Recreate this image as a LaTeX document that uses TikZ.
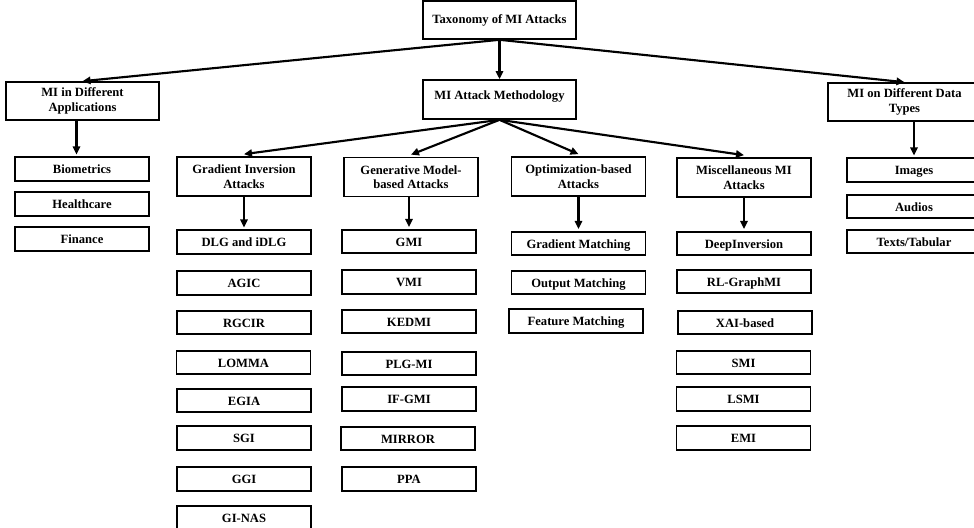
\documentclass[tikz,border=0pt]{standalone}
\usepackage{fontspec}
\setmainfont{Liberation Serif}
\usetikzlibrary{arrows.meta}
\begin{document}
\begin{tikzpicture}[x=0.75pt,y=-0.75pt,
  box/.style={draw=black, line width=1.2pt, inner sep=0pt, align=center,
    font=\fontsize{9.45pt}{10.9pt}\selectfont\bfseries, text=black},
  wbox/.style={box, minimum width=114.75pt, minimum height=28.5pt},
  sbox/.style={box, minimum width=100.5pt, minimum height=29.3pt},
  leaf/.style={box, minimum width=100.5pt, minimum height=17.6pt, text height=8.3pt, text depth=1.5pt},
  arr/.style={-{Triangle[length=6pt,width=5.5pt]}, line width=1.6pt, black}]
\useasboundingbox (0,0) rectangle (974,528);
\clip (0,0) rectangle (974,528);
% level 0
\node[wbox] (top) at (499.5,20) {Taxonomy of MI Attacks};
% level 1
\node[wbox, minimum height=29.3pt, text height=6.8pt, text depth=6.8pt] (meth) at (499.5,99.5) {MI Attack Methodology};
\node[wbox] (app) at (82.5,101) {MI in Different\\Applications};
\node[wbox] (data) at (904.5,102) {MI on Different Data\\Types};
% applications
\node[leaf] (bio) at (82,169) {Biometrics};
\node[leaf] (health) at (82,204) {Healthcare};
\node[leaf] (fin) at (82,239) {Finance};
% gradient inversion
\node[sbox] (gi) at (244,176.5) {Gradient Inversion\\Attacks};
\node[leaf] (dlg) at (244,242) {DLG and iDLG};
\node[leaf] (agic) at (244,283) {AGIC};
\node[leaf] (rgcir) at (244,322.5) {RGCIR};
\node[leaf] (lomma) at (243.5,362.5) {LOMMA};
\node[leaf] (egia) at (244,400.5) {EGIA};
\node[leaf] (sgi) at (244,438) {SGI};
\node[leaf] (ggi) at (244,479) {GGI};
\node[leaf] (ginas) at (244,518) {GI-NAS};
% generative
\node[sbox] (gen) at (411,177) {Generative Model-\\based Attacks};
\node[leaf] (gmi) at (409,241.5) {GMI};
\node[leaf] (vmi) at (409,282) {VMI};
\node[leaf] (kedmi) at (409,321.5) {KEDMI};
\node[leaf] (plgmi) at (409,363.5) {PLG-MI};
\node[leaf] (ifgmi) at (409,399) {IF-GMI};
\node[leaf] (mirror) at (408,438.5) {MIRROR};
\node[leaf] (ppa) at (409,479) {PPA};
% optimization
\node[sbox] (opt) at (578.5,176.5) {Optimization-based\\Attacks};
\node[leaf] (gradm) at (578.5,243.5) {Gradient Matching};
\node[leaf] (outm) at (578.5,282.5) {Output Matching};
\node[leaf] (featm) at (576,321) {Feature Matching};
% miscellaneous
\node[sbox] (misc) at (744,177.5) {Miscellaneous MI\\Attacks};
\node[leaf] (deepinv) at (744,243.5) {DeepInversion};
\node[leaf] (rlg) at (744,281.5) {RL-GraphMI};
\node[leaf] (xai) at (745,322.5) {XAI-based};
\node[leaf] (smi) at (743.5,362.5) {SMI};
\node[leaf] (lsmi) at (743.5,399) {LSMI};
\node[leaf] (emi) at (743.5,438) {EMI};
% data types
\node[leaf] (img) at (914,170) {Images};
\node[leaf] (aud) at (914,206.5) {Audios};
\node[leaf] (txt) at (914,241.5) {Texts/Tabular};
% connectors
\draw[arr] (top.south) -- (meth.north);
\draw[arr] (top.south) -- (app.north);
\draw[arr] (top.south) -- (data.north);
\draw[arr] ([xshift=-4.5pt]app.south) -- ([xshift=-4.5pt,yshift=1.5pt]app.south |- bio.north);
\draw[arr] (meth.south) -- ([yshift=1.5pt]gi.north);
\draw[arr] (meth.south) -- ([yshift=1.5pt]gen.north);
\draw[arr] (meth.south) -- ([yshift=1.5pt]opt.north);
\draw[arr] (meth.south) -- ([yshift=1.5pt]misc.north);
\draw[arr] (gi.south) -- ([yshift=1.5pt]dlg.north);
\draw[arr] ([xshift=-1.5pt]gen.south) -- ([xshift=-1.5pt,yshift=1.5pt]gen.south |- gmi.north);
\draw[arr] (opt.south) -- ([yshift=1.5pt]gradm.north);
\draw[arr] (misc.south) -- ([yshift=1.5pt]deepinv.north);
\draw[arr] (img.north |- data.south) -- ([yshift=1.5pt]img.north);
\end{tikzpicture}
\end{document}
